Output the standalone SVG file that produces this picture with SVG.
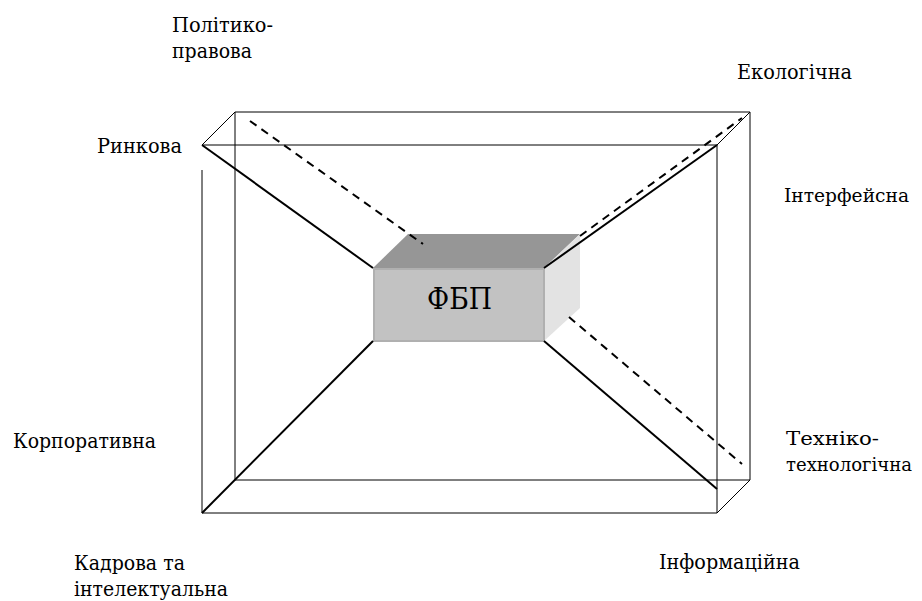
<svg xmlns="http://www.w3.org/2000/svg" width="922" height="601" viewBox="0 0 922 601">
<style>
.frame{stroke:#000;stroke-width:1;fill:none}
.solid{stroke:#000;stroke-width:2;fill:none}
.dash{stroke:#000;stroke-width:2;fill:none;stroke-dasharray:8 6}
.lbl{font-family:'DejaVu Serif','Liberation Serif',serif;font-size:21px;fill:#000}
.rt{font-size:19px}
</style>
<rect width="922" height="601" fill="#fff"/>
<g id="frame">
<path class="frame" d="M235,112 H750 V480 H235 Z"/>
<path class="frame" d="M202,145 H717 V513 H202 V170"/>
<path class="frame" d="M202,145 L235,112 M717,145 L750,112 M717,513 L750,480 M202,513 L235,480"/>
</g>
<g id="FBP">
<polygon points="373,268 408,234 580,234 544,268" fill="#969696"/>
<polygon points="544,268 580,234 580,308 544,341" fill="#e3e3e3"/>
<rect x="374" y="269" width="170" height="72" fill="#c2c2c2" stroke="#b0b0b0" stroke-width="2"/>
<text x="427" y="309" font-family="DejaVu Serif, 'Liberation Serif', serif" font-size="29" textLength="65" lengthAdjust="spacingAndGlyphs">ФБП</text>
</g>
<g id="connectors">
<line class="solid" x1="373" y1="268" x2="202" y2="145"/>
<line class="solid" x1="544" y1="268" x2="717" y2="145"/>
<line class="solid" x1="373" y1="341" x2="202" y2="513"/>
<line class="solid" x1="544" y1="341" x2="717" y2="489"/>
<line class="dash" x1="250" y1="121" x2="423" y2="244"/>
<line class="dash" x1="580" y1="236" x2="742" y2="118"/>
<line class="dash" x1="569" y1="317" x2="742" y2="464"/>
</g>
<g id="labels">
<text class="lbl" x="172" y="32" textLength="101" lengthAdjust="spacingAndGlyphs">Політико-</text>
<text class="lbl" x="172" y="58" textLength="80" lengthAdjust="spacingAndGlyphs">правова</text>
<text class="lbl" x="737" y="79" textLength="115" lengthAdjust="spacingAndGlyphs">Екологічна</text>
<text class="lbl" x="97" y="153" textLength="85" lengthAdjust="spacingAndGlyphs">Ринкова</text>
<text class="lbl rt" x="784" y="202" textLength="125" lengthAdjust="spacingAndGlyphs">Інтерфейсна</text>
<text class="lbl" x="13" y="448" textLength="143" lengthAdjust="spacingAndGlyphs">Корпоративна</text>
<text class="lbl rt" x="786" y="445" textLength="93" lengthAdjust="spacingAndGlyphs">Техніко-</text>
<text class="lbl rt" x="786" y="471" textLength="126" lengthAdjust="spacingAndGlyphs">технологічна</text>
<text class="lbl" x="74" y="570" textLength="111" lengthAdjust="spacingAndGlyphs">Кадрова та</text>
<text class="lbl" x="74" y="596" textLength="154" lengthAdjust="spacingAndGlyphs">інтелектуальна</text>
<text class="lbl" x="659" y="569" textLength="141" lengthAdjust="spacingAndGlyphs">Інформаційна</text>
</g>
</svg>
